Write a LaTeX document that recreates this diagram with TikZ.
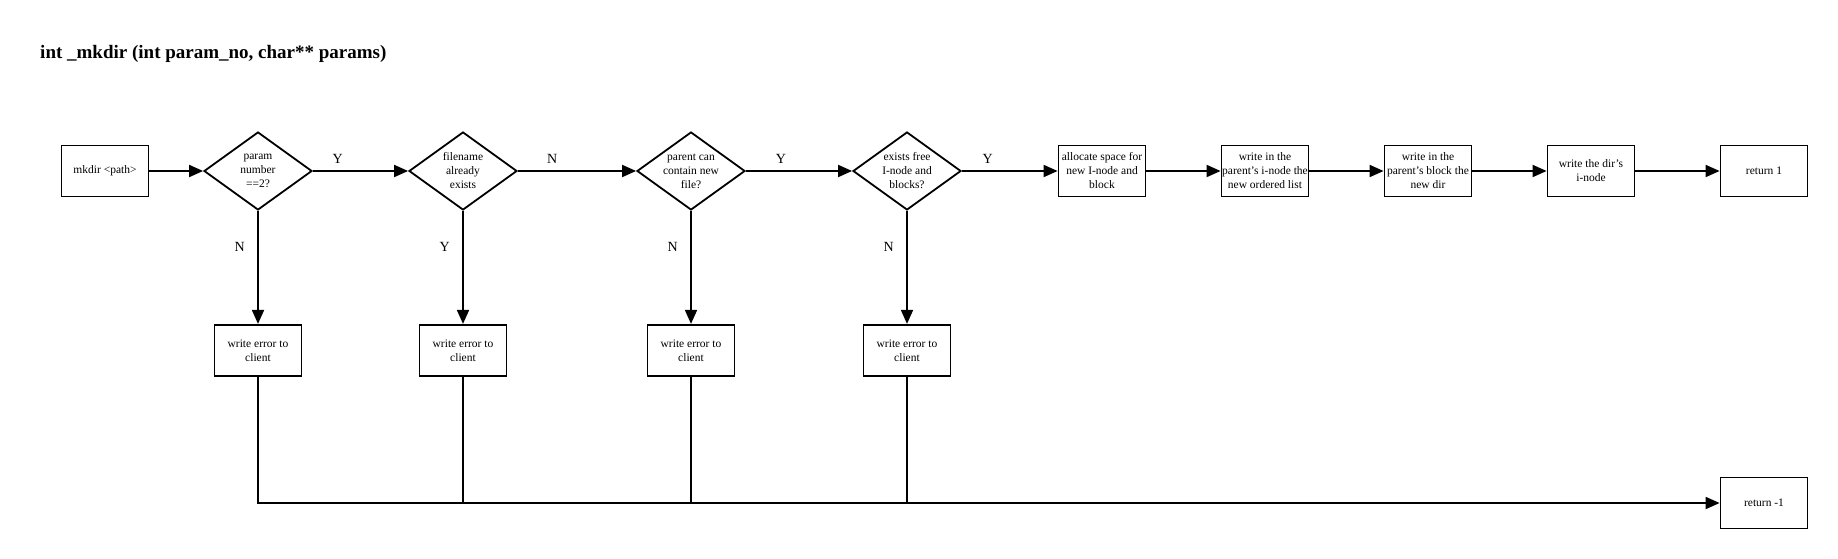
\documentclass[tikz,border=0pt]{standalone}
\usepackage{fontspec}
\setmainfont{Liberation Serif}
\usepackage{tikz}
\usetikzlibrary{positioning,arrows.meta,shapes.geometric}

\begin{document}
\begin{tikzpicture}[x=1pt,y=-1pt,-{Triangle[length=14pt,width=12pt]},line width=1.8pt]
  \tikzstyle{block}=[draw,rectangle,minimum width=87pt,minimum height=51pt,inner sep=0pt,
                     align=center,font=\fontsize{11.5}{14}\selectfont]
  \tikzstyle{test}=[draw,diamond,aspect=1.4,minimum width=108pt,minimum height=78pt,
                    inner sep=0pt,align=center,font=\fontsize{11.5}{14}\selectfont]
  \tikzstyle{answer}=[font=\fontsize{14}{16}\selectfont]

  \useasboundingbox (0,0) rectangle (1838,559);

  \node[anchor=west,font=\bfseries\fontsize{19}{22}\selectfont] (title) at (36,54)
        {int \_mkdir (int param\_no, char** params)};

  \node[block] (start)  at (105,171)  {mkdir \textless path\textgreater};
  \node[test]  (d1)     at (258,171)  {param\\number\\==2?};
  \node[test]  (d2)     at (463,171)  {filename\\already\\exists};
  \node[test]  (d3)     at (691,171)  {parent can\\contain new\\file?};
  \node[test]  (d4)     at (907,171)  {exists free\\I-node and\\blocks?};
  \node[block] (alloc)  at (1102,171) {allocate space for\\new I-node and\\block};
  \node[block] (inode)  at (1265,171) {write in the\\parent's i-node the\\new ordered list};
  \node[block] (pblock) at (1428,171) {write in the\\parent's block the\\new dir};
  \node[block] (dirino) at (1591,171) {write the dir's\\i-node};
  \node[block] (ret1)   at (1764,171) {return 1};

  \node[block] (err1) [below=113pt of d1] {write error to\\client};
  \node[block] (err2) [below=113pt of d2] {write error to\\client};
  \node[block] (err3) [below=113pt of d3] {write error to\\client};
  \node[block] (err4) [below=113pt of d4] {write error to\\client};
  \node[block] (retm)   at (1764,503) {return -1};

  \path (start)  edge                                         (d1)
        (d1)     edge node[answer,pos=.26,above=3pt] {Y}      (d2)
                 edge node[answer,pos=.32,left=9pt]  {N}      (err1)
        (d2)     edge node[answer,pos=.29,above=3pt] {N}      (d3)
                 edge node[answer,pos=.32,left=9pt]  {Y}      (err2)
        (d3)     edge node[answer,pos=.33,above=3pt] {Y}      (d4)
                 edge node[answer,pos=.32,left=9pt]  {N}      (err3)
        (d4)     edge node[answer,pos=.27,above=3pt] {Y}      (alloc)
                 edge node[answer,pos=.32,left=9pt]  {N}      (err4)
        (alloc)  edge                                         (inode)
        (inode)  edge                                         (pblock)
        (pblock) edge                                         (dirino)
        (dirino) edge                                         (ret1);

  % error paths all end in return -1
  \draw (err1) -- (err1 |- retm) -- (retm);
  \draw[-] (err2) -- (err2 |- retm);
  \draw[-] (err3) -- (err3 |- retm);
  \draw[-] (err4) -- (err4 |- retm);
\end{tikzpicture}
\end{document}
